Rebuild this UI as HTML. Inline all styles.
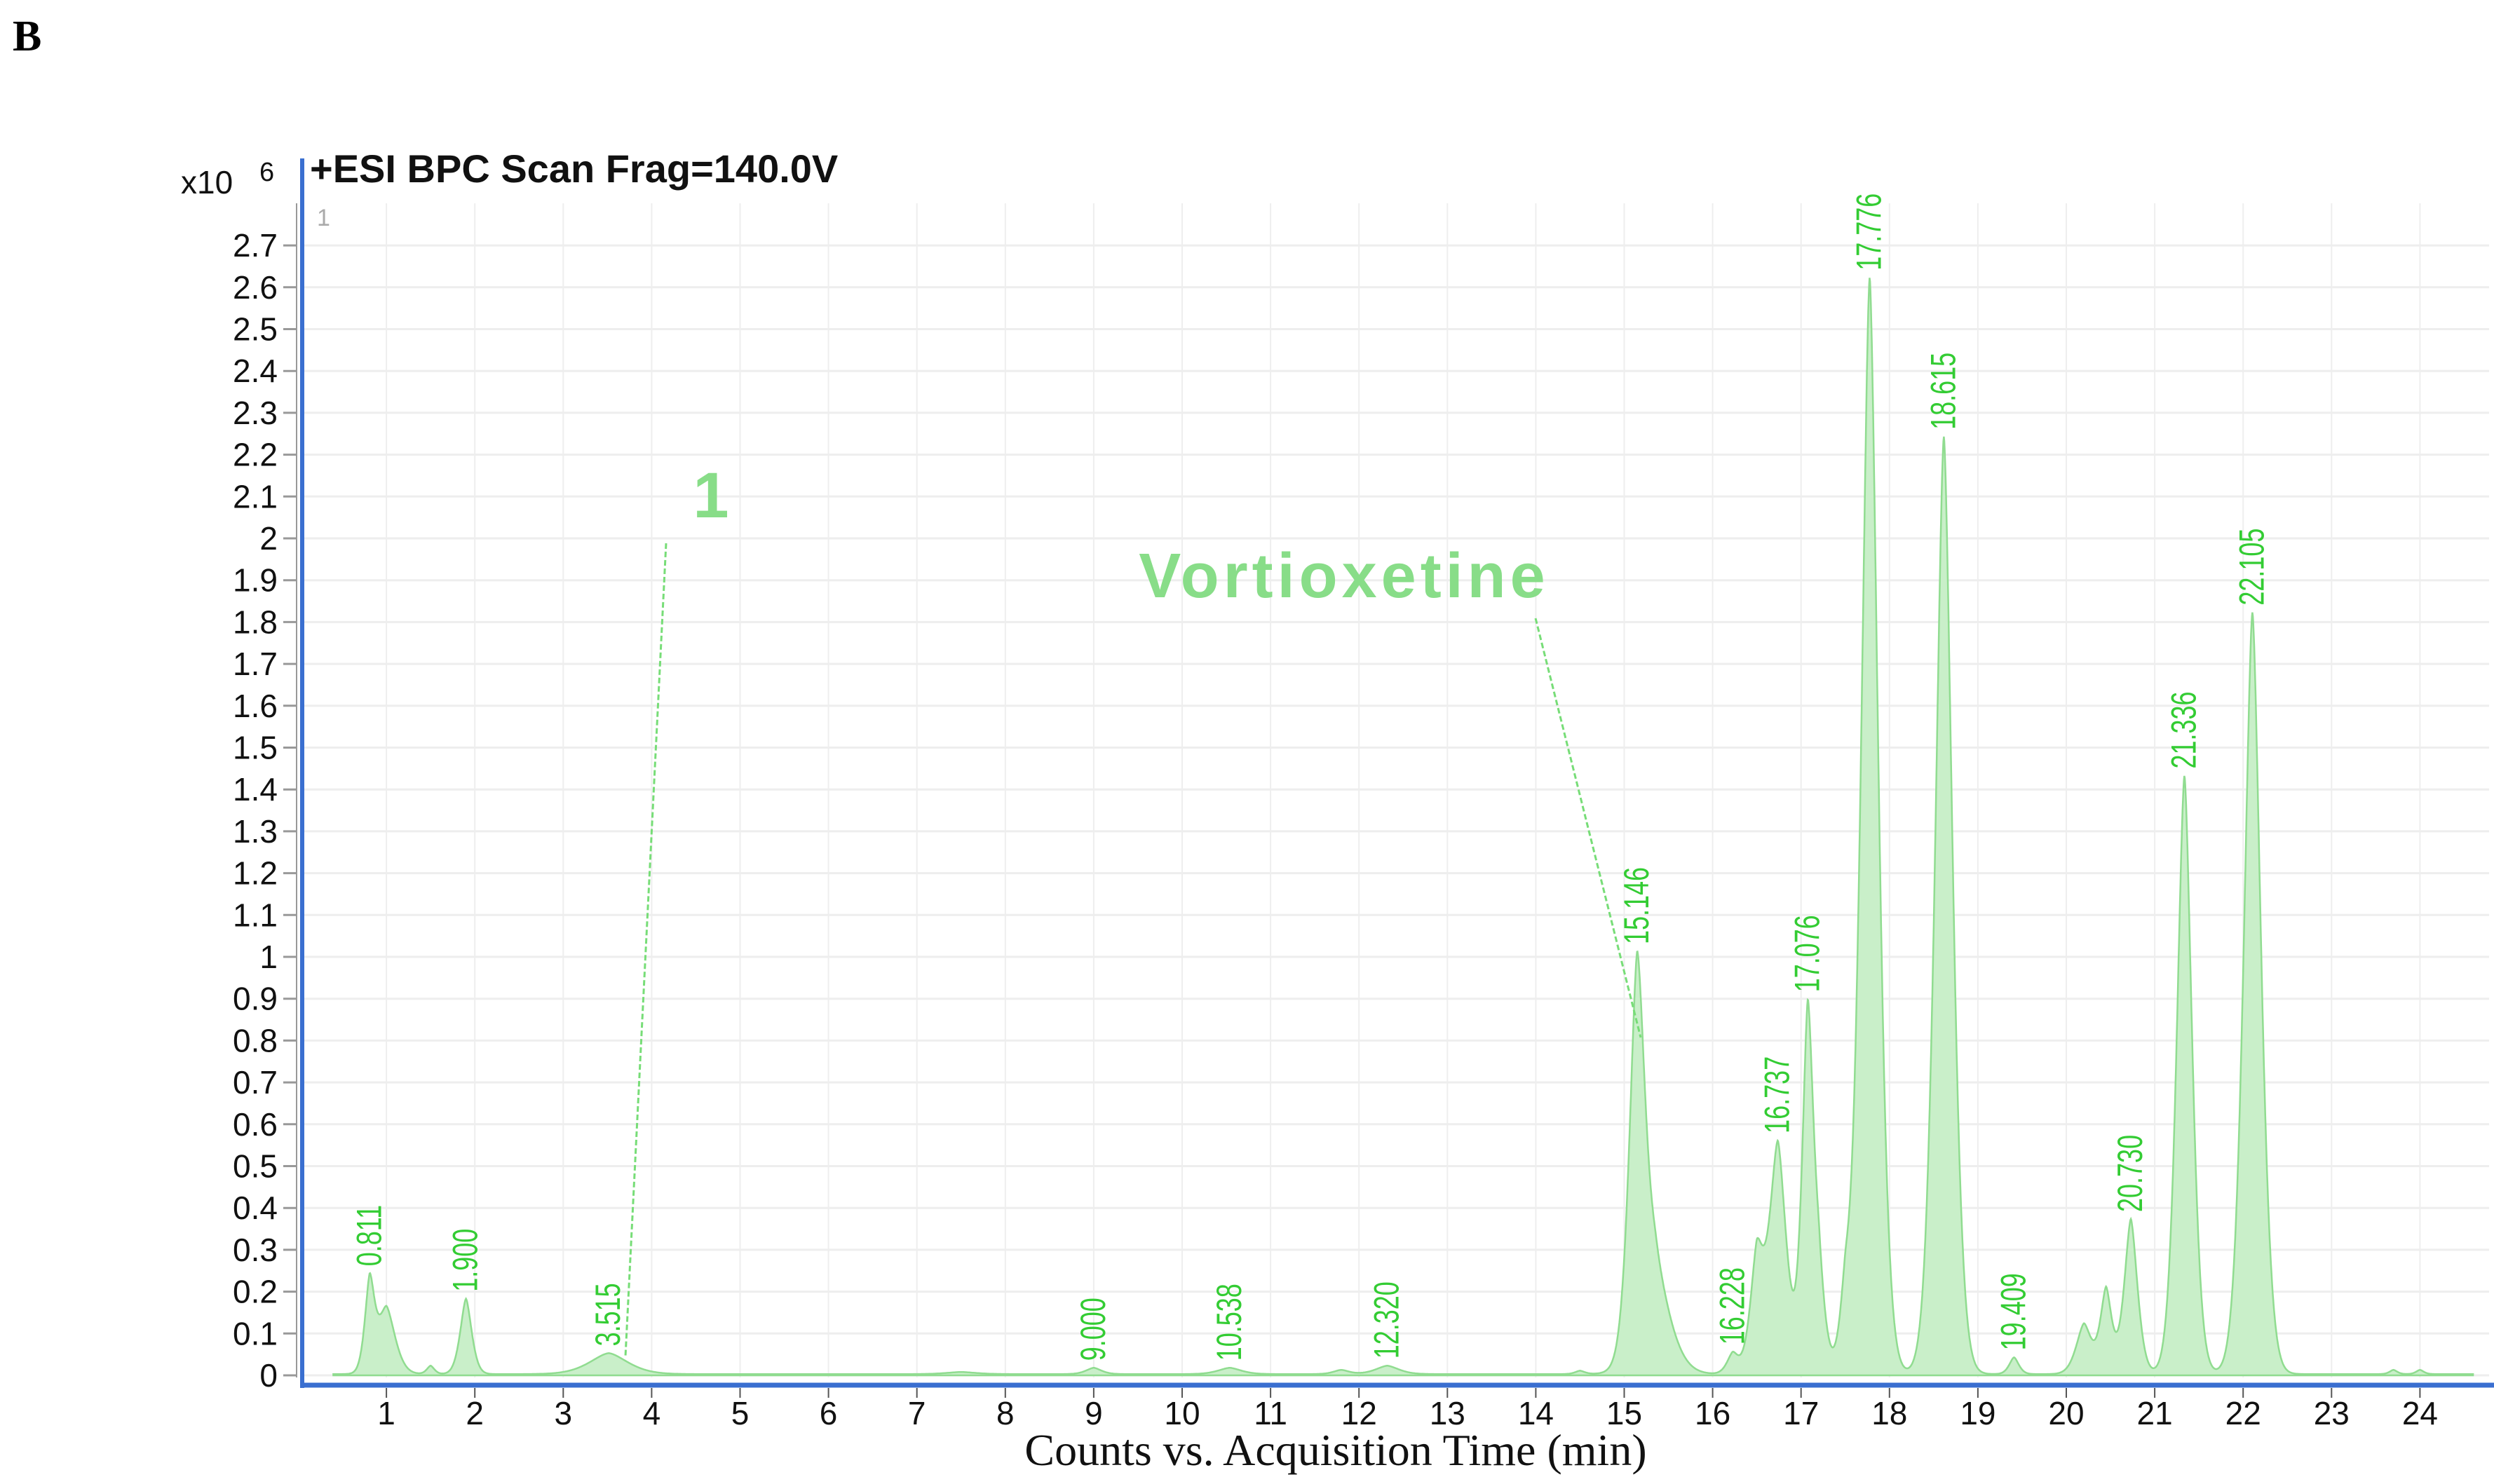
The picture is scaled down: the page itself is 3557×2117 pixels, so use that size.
<!DOCTYPE html>
<html><head><meta charset="utf-8"><style>
html,body{margin:0;padding:0;background:#fff;}
svg{display:block;}
</style></head><body>
<svg id="chart" width="3557" height="2117" viewBox="0 0 3557 2117" xmlns="http://www.w3.org/2000/svg">
<text x="18" y="72" font-family="Liberation Serif, serif" font-weight="bold" font-size="62" fill="#000">B</text>
<text x="258" y="276" font-family="Liberation Sans, sans-serif" font-size="46" fill="#111">x10</text>
<text x="370" y="258" font-family="Liberation Sans, sans-serif" font-size="38" fill="#111">6</text>
<text x="442" y="260" font-family="Liberation Sans, sans-serif" font-weight="bold" font-size="56" fill="#111">+ESI BPC Scan Frag=140.0V</text>
<g id="grid"></g>
<g id="series"></g>
<g id="labels"></g>
<g id="axes"></g>
<text x="452" y="322" font-family="Liberation Sans, sans-serif" font-size="34" fill="#aaa">1</text>
<text x="1014" y="738" text-anchor="middle" font-family="Liberation Sans, sans-serif" font-weight="bold" font-size="92" fill="#88dd88">1</text>
<line x1="950" y1="775" x2="892" y2="1935" stroke="#77dd77" stroke-width="3" stroke-dasharray="8,4"/>
<text x="1917" y="852" text-anchor="middle" font-family="Liberation Sans, sans-serif" font-weight="bold" font-size="90" letter-spacing="6" fill="#88dd88">Vortioxetine</text>
<line x1="2190" y1="882" x2="2340" y2="1480" stroke="#77dd77" stroke-width="3" stroke-dasharray="8,4"/>
<text x="1905" y="2090" text-anchor="middle" font-family="Liberation Serif, serif" font-size="64" fill="#111">Counts vs. Acquisition Time (min)</text>
</svg>
<script>
const peakTimes   = [0.811,1.0,1.5,1.9,3.515,7.5,9.0,10.538,11.8,12.32,14.5,15.146,15.35,16.228,16.5,16.737,17.076,17.2,17.5,17.776,18.615,19.409,20.2,20.45,20.73,21.336,22.105,23.7,24.0];
const peakHeights = [0.21,0.16,0.02,0.18,0.05,0.005,0.015,0.015,0.01,0.02,0.008,0.9,0.25,0.05,0.27,0.55,0.83,0.2,0.16,2.62,2.24,0.04,0.12,0.2,0.37,1.43,1.82,0.01,0.01];
const peakWidths  = [0.05,0.09,0.04,0.06,0.2,0.15,0.08,0.12,0.08,0.12,0.05,0.08,0.15,0.06,0.07,0.09,0.06,0.07,0.06,0.09,0.09,0.05,0.08,0.06,0.07,0.08,0.09,0.04,0.04];
const labelTimes  = [0.811,1.900,3.515,9.000,10.538,12.320,15.146,16.228,16.737,17.076,17.776,18.615,19.409,20.730,21.336,22.105];
const labelText   = ["0.811","1.900","3.515","9.000","10.538","12.320","15.146","16.228","16.737","17.076","17.776","18.615","19.409","20.730","21.336","22.105"];
const xTicks = [1,2,3,4,5,6,7,8,9,10,11,12,13,14,15,16,17,18,19,20,21,22,23,24];
const yTicks = [0,0.1,0.2,0.3,0.4,0.5,0.6,0.7,0.8,0.9,1,1.1,1.2,1.3,1.4,1.5,1.6,1.7,1.8,1.9,2,2.1,2.2,2.3,2.4,2.5,2.6,2.7];
const baseline = 0.003;

const X0=425, XS=126.1, Y0=1962, YS=597;
const xs = t => X0 + t*XS;
const ys = v => Y0 - v*YS;
const NS='http://www.w3.org/2000/svg';
function mk(tag, attrs, parent){const e=document.createElementNS(NS,tag);for(const k in attrs)e.setAttribute(k,attrs[k]);parent.appendChild(e);return e;}
const grid=document.getElementById('grid'), series=document.getElementById('series'), labels=document.getElementById('labels'), axes=document.getElementById('axes');

function signal(t){let s=baseline;for(let i=0;i<peakTimes.length;i++){const d=Math.abs(t-peakTimes[i])/peakWidths[i];s+=peakHeights[i]*Math.exp(-0.5*Math.pow(d,1.6));}return s;}

xTicks.forEach(t=>{const l=mk('line',{x1:xs(t),x2:xs(t),y1:290,y2:1965,stroke:'#eeeeee','stroke-width':2},grid);

});
yTicks.forEach(v=>{const l=mk('line',{x1:433,x2:3550,y1:ys(v),y2:ys(v),stroke:'#eeeeee','stroke-width':3},grid);

});

let d='M'+xs(0.4)+','+ys(0);
for(let t=0.4;t<=24.6;t+=0.005){d+=' L'+xs(t).toFixed(1)+','+ys(signal(t)).toFixed(1);}
d+=' L'+xs(24.6)+','+ys(0)+' Z';
const area=mk('path',{d:d,fill:'#c9efc9',stroke:'#90dc90','stroke-width':2.5},series);



labelTimes.forEach((t,i)=>{const px=xs(t), py=ys(signal(t))-10;
const tx=mk('text',{x:0,y:0,transform:'translate('+(px+16)+','+py+') rotate(-90) scale(0.72,1)','font-family':'Liberation Sans, sans-serif','font-size':50,fill:'#33cc33'},labels);
tx.textContent=labelText[i];

});

const ya=mk('line',{x1:431,x2:431,y1:226,y2:1980,stroke:'#3a6fd0','stroke-width':6},axes);


const ya2=mk('line',{x1:423,x2:423,y1:290,y2:1965,stroke:'#999','stroke-width':2},axes);


const xa=mk('line',{x1:428,x2:3557,y1:1976,y2:1976,stroke:'#3a6fd0','stroke-width':7},axes);


xTicks.forEach(t=>{const tk=mk('line',{x1:xs(t),x2:xs(t),y1:1980,y2:1994,stroke:'#555','stroke-width':2},axes);


const lb=mk('text',{x:xs(t),y:2032,'text-anchor':'middle','font-family':'Liberation Sans, sans-serif','font-size':46,fill:'#111'},axes);
lb.textContent=String(t);

});
yTicks.forEach(v=>{const tk=mk('line',{x1:404,x2:423,y1:ys(v),y2:ys(v),stroke:'#999','stroke-width':3},axes);


const lb=mk('text',{x:396,y:ys(v)+16,'text-anchor':'end','font-family':'Liberation Sans, sans-serif','font-size':46,fill:'#111'},axes);
lb.textContent=String(v);

});
</script>
</body></html>
